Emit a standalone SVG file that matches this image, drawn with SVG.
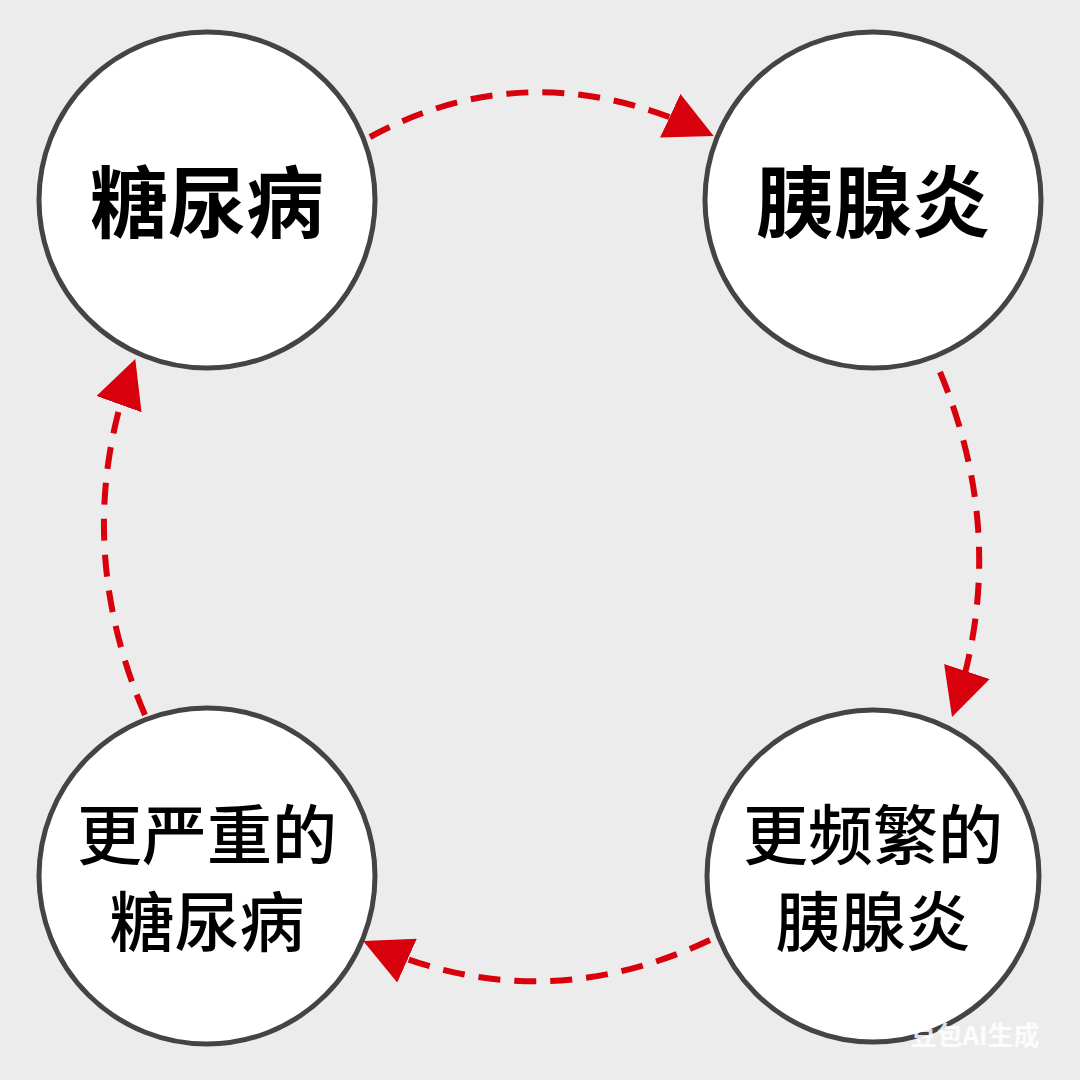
<svg xmlns="http://www.w3.org/2000/svg" width="1080" height="1080" viewBox="0 0 1080 1080">
<style>
.n{fill:#fff;stroke:#444;stroke-width:5}
.t{font-family:"Noto Sans CJK SC",sans-serif;fill:#000;text-anchor:middle}
.b{font-size:78px;font-weight:700}
.r{font-size:65px;font-weight:500}
.c{fill:none;stroke:#d9000d;stroke-width:6;stroke-dasharray:22 14}
</style>
<defs><marker id="a" viewBox="0 0 10 10" refX="8" refY="5" markerWidth="8" markerHeight="8" orient="auto" markerUnits="strokeWidth"><path d="M0,0L10,5L0,10z" fill="#d9000d"/></marker></defs>
<rect width="1080" height="1080" fill="#ececec"/>
<g id="connectors">
<path class="c" d="M370,137Q530,50 705,132" marker-end="url(#a)"/>
<path class="c" d="M940,372Q1010,540 955,708" marker-end="url(#a)"/>
<path class="c" d="M710,940Q540,1020 372,945" marker-end="url(#a)"/>
<path class="c" d="M145,715Q70,540 132,368" marker-end="url(#a)"/>
</g>
<g id="n1"><circle class="n" cx="207" cy="200" r="168"/><text class="t b" x="207" y="232">糖尿病</text></g>
<g id="n2"><circle class="n" cx="873" cy="200" r="168"/><text class="t b" x="873" y="232">胰腺炎</text></g>
<g id="n3"><circle class="n" cx="873" cy="876" r="166"/><text class="t r" x="873" y="859">更频繁的</text><text class="t r" x="873" y="946">胰腺炎</text></g>
<g id="n4"><circle class="n" cx="207" cy="876" r="168"/><text class="t r" x="207" y="859">更严重的</text><text class="t r" x="207" y="946">糖尿病</text></g>
<text x="975" y="1045" font-family="Noto Sans CJK SC,sans-serif" font-size="26" font-weight="700" fill="#fff" fill-opacity="0.85" text-anchor="middle">豆包AI生成</text>
</svg>
